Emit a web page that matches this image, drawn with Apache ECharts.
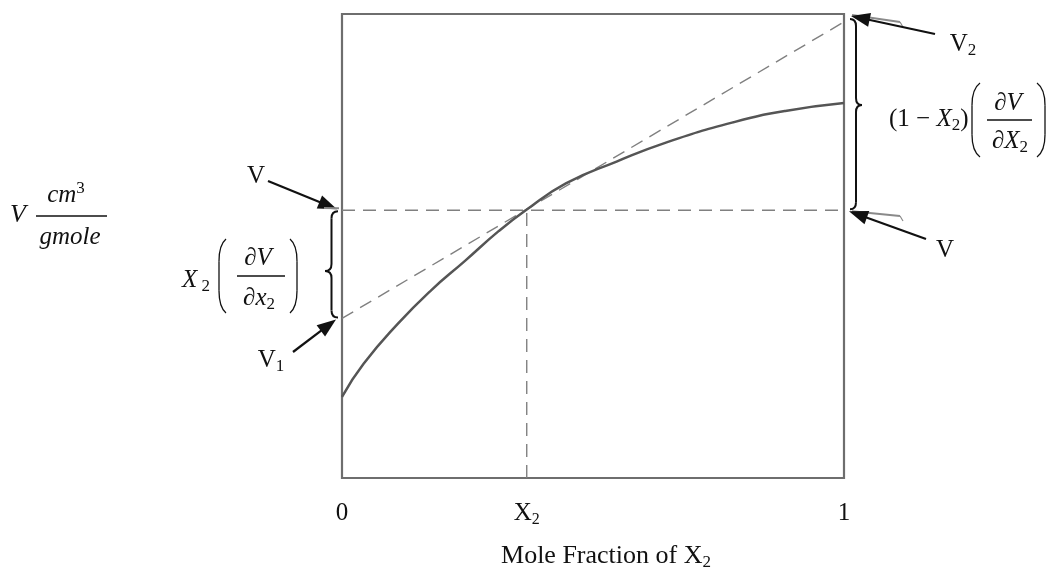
<!DOCTYPE html>
<html>
<head>
<meta charset="utf-8">
<script src="https://cdn.jsdelivr.net/npm/echarts@6/dist/echarts.min.js"></script>
<style>
  html, body { margin: 0; padding: 0; background: #fff; }
  #chart { width: 1052px; height: 576px; }
</style>
</head>
<body>
<div id="chart"></div>
<script>
// partial molar volume sketch: V vs mole fraction of component 2
const moleFraction = [0, 0.043, 0.111, 0.177, 0.245, 0.312, 0.366, 0.446, 0.547, 0.648, 0.781, 0.883, 1.0];
const molarVolume  = [0.175, 0.246, 0.332, 0.404, 0.468, 0.532, 0.577, 0.635, 0.682, 0.724, 0.767, 0.791, 0.808];
const x2Point = 0.368;      // chosen composition X2
const vAtX2 = 0.577;        // V at X2
const v1Intercept = 0.344;  // tangent at x = 0
const v2Intercept = 0.983;  // tangent at x = 1
const tickValues = [0, x2Point, 1];
const tickLabels = ['{n|0}', '{n|X}{s|2}', '{n|1}'];

const serif = "'Liberation Serif', 'Times New Roman', serif";
const chart = echarts.init(document.getElementById('chart'));

const dashStyle = { color: '#808080', width: 1.4, type: [13, 8] };
const labelRich = {
  n: { fontFamily: serif, fontSize: 25, color: '#111', lineHeight: 30, verticalAlign: 'middle' },
  s: { fontFamily: serif, fontSize: 16, color: '#111', verticalAlign: 'bottom' }
};

chart.setOption({
  animation: false,
  grid: { left: 342, right: 208, top: 14, bottom: 94, show: true, borderColor: '#6e6e6e', borderWidth: 2.2 },
  xAxis: {
    type: 'value', min: 0, max: 1,
    axisLine: { show: false }, axisTick: { show: false }, splitLine: { show: false },
    axisLabel: {
      customValues: tickValues,
      margin: 20,
      formatter: v => tickLabels[tickValues.indexOf(v)],
      rich: labelRich
    },
    name: '{n|Mole Fraction of X}{s|2}',
    nameLocation: 'middle',
    nameGap: 63,
    nameTextStyle: {
      padding: [0, 0, 0, 26],
      rich: {
        n: { fontFamily: serif, fontSize: 26, color: '#111', lineHeight: 30, verticalAlign: 'middle' },
        s: { fontFamily: serif, fontSize: 17, color: '#111', verticalAlign: 'bottom' }
      }
    }
  },
  yAxis: {
    type: 'value', min: 0, max: 1,
    axisLine: { show: false }, axisTick: { show: false }, splitLine: { show: false }, axisLabel: { show: false }
  },
  series: [
    {
      name: 'tangent', type: 'line', symbol: 'none', z: 1,
      data: [[0, v1Intercept], [1, v2Intercept]],
      lineStyle: dashStyle
    },
    {
      name: 'V level', type: 'line', symbol: 'none', z: 1,
      data: [[0, vAtX2], [1, vAtX2]],
      lineStyle: dashStyle
    },
    {
      name: 'X2 drop', type: 'line', symbol: 'none', z: 1,
      data: [[x2Point, 0], [x2Point, vAtX2]],
      lineStyle: dashStyle
    },
    {
      name: 'V', type: 'line', symbol: 'none', smooth: true, z: 3,
      data: moleFraction.map((x, i) => [x, molarVolume[i]]),
      lineStyle: { color: '#555', width: 2.5 }
    }
  ]
});

// ---- annotations (arrows, braces, formulas) ----
const px = (x, y) => chart.convertToPixel({ gridIndex: 0 }, [x, y]);
const ink = '#111';

function txt(x, y, text, size, italic, align) {
  return {
    type: 'text', x: x, y: y, z: 10,
    style: {
      text: text, fill: ink, fontFamily: serif, fontSize: size,
      fontStyle: italic ? 'italic' : 'normal',
      align: align || 'center', verticalAlign: 'middle'
    }
  };
}
function rich(x, y, text, align) {
  return {
    type: 'text', x: x, y: y, z: 10,
    style: {
      text: text, fill: ink, align: align || 'center', verticalAlign: 'middle',
      rich: {
        r: { fontFamily: serif, fontSize: 25, fill: ink, lineHeight: 30, verticalAlign: 'middle' },
        i: { fontFamily: serif, fontSize: 25, fontStyle: 'italic', fill: ink, lineHeight: 30, verticalAlign: 'middle' },
        s: { fontFamily: serif, fontSize: 17, fill: ink, verticalAlign: 'bottom' },
        p: { fontFamily: serif, fontSize: 17, fill: ink, verticalAlign: 'top' }
      }
    }
  };
}
function seg(x1, y1, x2, y2, w, color) {
  return { type: 'line', z: 10, shape: { x1, y1, x2, y2 }, style: { stroke: color || ink, lineWidth: w || 1.5 } };
}
function curve(x1, y1, cx, cy, x2, y2, w) {
  return { type: 'bezierCurve', z: 10, shape: { x1, y1, cpx1: cx, cpy1: cy, x2, y2 }, style: { stroke: ink, lineWidth: w || 2, fill: null } };
}
function arrow(x1, y1, x2, y2) {
  const a = Math.atan2(y2 - y1, x2 - x1), L = 19, W = 7;
  const bx = x2 - L * Math.cos(a), by = y2 - L * Math.sin(a);
  return [
    seg(x1, y1, bx + 2 * Math.cos(a), by + 2 * Math.sin(a), 2.2),
    { type: 'polygon', z: 10, shape: { points: [[x2, y2], [bx - W * Math.sin(a), by + W * Math.cos(a)], [bx + W * Math.sin(a), by - W * Math.cos(a)]] }, style: { fill: ink } }
  ];
}
function brace(x, yTop, yBot, yTip, dir, w) {
  const xm = x + dir * w * 0.5, xt = x + dir * w, r = 7;
  return [
    curve(x, yTop, xm, yTop, xm, yTop + r),
    seg(xm, yTop + r, xm, yTip - r, 2),
    curve(xm, yTip - r, xm, yTip, xt, yTip),
    curve(xt, yTip, xm, yTip, xm, yTip + r),
    seg(xm, yTip + r, xm, yBot - r, 2),
    curve(xm, yBot - r, xm, yBot, x, yBot)
  ];
}
function paren(x, yTop, yBot, dir, w) {
  // dir = -1 -> "(" bulging left, +1 -> ")"
  const h = yBot - yTop, xm = x + dir * w;
  return [
    curve(x, yTop, xm, yTop + h * 0.08, xm, yTop + h * 0.3, 1.3),
    seg(xm, yTop + h * 0.3, xm, yBot - h * 0.3, 1.3),
    curve(xm, yBot - h * 0.3, xm, yBot - h * 0.08, x, yBot, 1.3)
  ];
}

const pV = px(0, vAtX2), pV1 = px(0, v1Intercept), pV2 = px(1, v2Intercept), pVr = px(1, vAtX2);

const g = [];
// y axis label: V cm^3 / gmole
g.push(txt(18, 215, 'V', 26, true));
g.push(rich(66, 195, '{i|cm}{p|3}'));
g.push(seg(36, 216, 107, 216, 1.3));
g.push(txt(70, 237, 'gmole', 25, true));

// left side: V, V1, brace, X2 (dV/dx2)
g.push(txt(256, 176, 'V', 25, false));
g.push(...arrow(268, 181, pV[0] - 5, pV[1] - 1));
g.push(seg(324, 208, pV[0] - 3, pV[1] - 2, 2, '#888'));
g.push(rich(271, 360, '{r|V}{s|1}'));
g.push(...arrow(293, 352, pV1[0] - 6, pV1[1] + 1));
g.push(...brace(pV[0] - 4, pV[1] + 1, pV1[1] - 1, 271, -1, 13));
g.push(rich(196, 280, '{i|X}{s| 2}'));
g.push(...paren(226, 239, 313, -1, 7));
g.push(...paren(290, 239, 313, 1, 7));
g.push(txt(258, 258, '∂V', 25, true));
g.push(seg(237, 276, 285, 276, 1.3));
g.push(rich(259, 298, '{i|∂x}{s|2}'));

// right side: V2, V, brace, (1 - X2)(dV/dX2)
g.push(rich(963, 44, '{r|V}{s|2}'));
g.push(seg(pV2[0] + 8, pV2[1] - 7, 900, 22, 2, '#8a8a8a'));
g.push(seg(900, 22, 903, 27, 1.2, '#8a8a8a'));
g.push(...arrow(935, 34, pV2[0] + 7, pV2[1] - 6));
g.push(rich(945, 250, '{r|V}'));
g.push(seg(pVr[0] + 8, pVr[1] + 1, 900, 216, 2, '#8a8a8a'));
g.push(seg(900, 216, 903, 221, 1.2, '#8a8a8a'));
g.push(...arrow(926, 239, pVr[0] + 5, pVr[1] + 1));
g.push(...brace(pV2[0] + 6, pV2[1] - 3, pVr[1] - 1, 105, 1, 12));
g.push(rich(889, 119, '{r|(1 − }{i|X}{s|2}{r|)}', 'left'));
g.push(...paren(980, 83, 157, -1, 8));
g.push(...paren(1037, 83, 157, 1, 8));
g.push(txt(1008, 103, '∂V', 25, true));
g.push(seg(987, 120, 1032, 120, 1.3));
g.push(rich(1010, 141, '{i|∂X}{s|2}'));

chart.setOption({ graphic: { elements: g } });
</script>
</body>
</html>
